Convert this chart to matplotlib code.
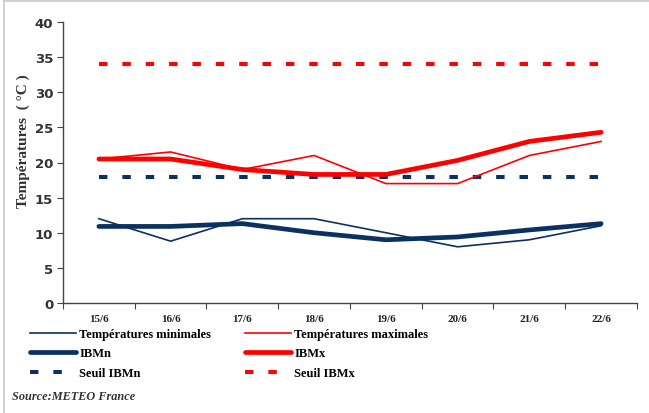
import numpy as np
import matplotlib
matplotlib.use('Agg')
import matplotlib.pyplot as plt
from matplotlib.lines import Line2D

# -----------------------------------
#  Données
# -----------------------------------
jours = ['15/6', '16/6', '17/6', '18/6', '19/6', '20/6', '21/6', '22/6']
t_min = [12.0, 8.8, 12.0, 12.0, 10.0, 8.0, 9.0, 11.0]
t_max = [20.5, 21.5, 19.0, 21.0, 17.0, 17.0, 21.0, 23.0]
ibmn = [10.9, 10.9, 11.3, 10.0, 9.0, 9.4, 10.4, 11.3]
ibmx = [20.5, 20.5, 19.0, 18.3, 18.3, 20.3, 23.0, 24.3]
seuil_ibmn = 18
seuil_ibmx = 34

bleu = '#0b3161'
rouge = '#ff0000'
serif = 'Liberation Serif'

# -----------------------------------
#  Figure
# -----------------------------------
fig = plt.figure(figsize=(6.49, 4.14), dpi=100)
ax = fig.add_axes([63 / 649, 1 - 304 / 414, (637 - 63) / 649, (304 - 23) / 414])

x = np.arange(len(jours))
ax.plot(x, t_min, color=bleu, lw=1.2, label='Températures minimales')
ax.plot(x, ibmn, color=bleu, lw=3.4, solid_capstyle='round', label='IBMn')
ax.plot(x, [seuil_ibmn] * len(x), color=bleu, lw=2.9, dashes=(2.1, 3.7),
        dash_capstyle='butt', label='Seuil IBMn')
ax.plot(x, t_max, color=rouge, lw=1.2, label='Températures maximales')
ax.plot(x, ibmx, color=rouge, lw=3.4, solid_capstyle='round', label='IBMx')
ax.plot(x, [seuil_ibmx] * len(x), color=rouge, lw=2.9, dashes=(2.1, 3.7),
        dash_capstyle='butt', label='Seuil IBMx')

ax.set_xlim(-0.5, len(jours) - 0.5)
ax.set_ylim(0, 40)
ax.set_yticks(range(0, 41, 5))

# graduations aux limites des catégories, libellés au centre
ax.set_xticks(np.arange(-0.5, len(jours), 1.0))
ax.set_xticklabels([])
ax.set_xticks(x, minor=True)
ax.set_xticklabels(jours, minor=True, fontfamily=serif, fontweight='bold',
                   fontsize=8.0, color='#222222')
ax.tick_params(axis='x', which='minor', length=0, pad=8)
ax.tick_params(axis='x', which='major', length=4, direction='out', color='#444444')
ax.tick_params(axis='y', length=4, direction='out', color='#444444',
               labelsize=9.5, labelcolor='#333333', pad=3)
for lab in ax.get_yticklabels():
    lab.set_fontweight('semibold')

for s in ['top', 'right']:
    ax.spines[s].set_visible(False)
for s in ['left', 'bottom']:
    ax.spines[s].set_color('#444444')
    ax.spines[s].set_linewidth(1.0)

ax.set_ylabel('Températures  ( °C )', fontfamily=serif, fontweight='bold',
              fontsize=11, color='#333333')
ax.yaxis.set_label_coords(-0.058, 0.58)

# -----------------------------------
#  Légende en deux colonnes
# -----------------------------------
handles, labels = ax.get_legend_handles_labels()
kw = dict(frameon=False, loc='upper left', borderpad=0, borderaxespad=0,
          handlelength=3.7, handletextpad=0.25, labelspacing=0.6,
          prop={'family': serif, 'weight': 'bold', 'size': 9.0})
leg1 = fig.legend(handles[:3], labels[:3], bbox_to_anchor=(30 / 649, 1 - 329 / 414), **kw)
leg2 = fig.legend(handles[3:], labels[3:], bbox_to_anchor=(245 / 649, 1 - 329 / 414), **kw)

fig.text(12 / 649, 1 - 397 / 414, 'Source:METEO France', fontfamily=serif,
         fontweight='bold', fontstyle='italic', fontsize=8.8, color='#333333',
         va='center', ha='left')

# cadre gris (bords gauche et haut)
fig.add_artist(Line2D([4 / 649, 4 / 649], [0, 1 - 2 / 414], color='#c8c8c8', lw=1.2,
                      transform=fig.transFigure))
fig.add_artist(Line2D([4 / 649, 1], [1 - 2 / 414, 1 - 2 / 414], color='#c8c8c8', lw=1.2,
                      transform=fig.transFigure))

plt.savefig('out.png', dpi=100)
